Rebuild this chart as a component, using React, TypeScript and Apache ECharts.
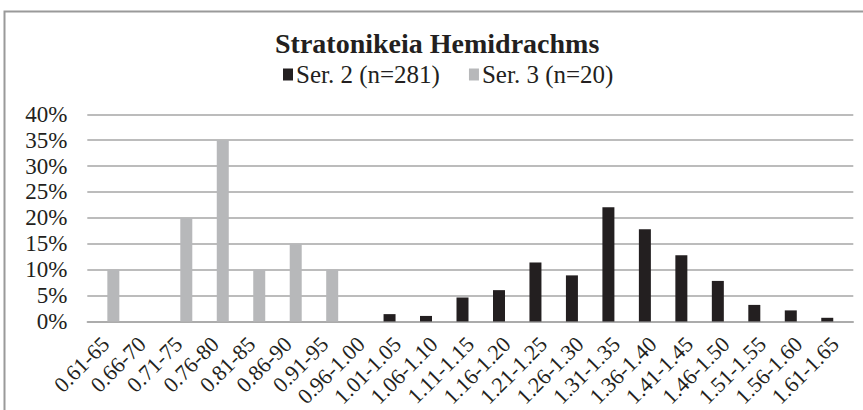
import React, { useEffect, useRef } from "react";
import * as echarts from "echarts";

const categories = [
  "0.61-65", "0.66-70", "0.71-75", "0.76-80", "0.81-85", "0.86-90", "0.91-95",
  "0.96-1.00", "1.01-1.05", "1.06-1.10", "1.11-1.15", "1.16-1.20", "1.21-1.25",
  "1.26-1.30", "1.31-1.35", "1.36-1.40", "1.41-1.45", "1.46-1.50", "1.51-1.55",
  "1.56-1.60", "1.61-1.65",
];

// percentages
const ser2Values = [
  0, 0, 0, 0, 0, 0, 0, 0, 1.42, 1.07, 4.63, 6.05, 11.39, 8.9, 22.06, 17.79,
  12.81, 7.83, 3.2, 2.14, 0.71,
];
const ser3Values = [10, 0, 20, 35, 10, 15, 10, 0, 0, 0, 0, 0, 0, 0, 0, 0, 0, 0, 0, 0, 0];

const seriesNames = ["Ser. 2 (n=281)", "Ser. 3 (n=20)"];
const yTicks = { min: 0, max: 40, interval: 5 };

const FONT = "'Liberation Serif', 'Times New Roman', serif";
const TEXT = "#231f20";
const GRID = "#a6a6a6";

export default function App() {
  const ref = useRef<HTMLDivElement>(null);
  useEffect(() => {
    if (!ref.current) return;
    const chart = echarts.init(ref.current, null, { renderer: "svg" });
    chart.setOption({
      animation: false,
      backgroundColor: "#ffffff",
      textStyle: { fontFamily: FONT, color: TEXT },
      title: {
        text: "Stratonikeia Hemidrachms",
        left: 275,
        top: 29,
        padding: 0,
        textStyle: { fontFamily: FONT, fontWeight: "bold", fontSize: 28, color: TEXT },
      },
      legend: {
        top: 62,
        left: 283,
        padding: 0,
        icon: "rect",
        itemWidth: 10,
        itemHeight: 12,
        itemGap: 29,
        textStyle: { fontFamily: FONT, fontSize: 25, color: TEXT, padding: [0, 0, 0, -2] },
        data: seriesNames,
      },
      graphic: [
        {
          type: "rect",
          shape: { x: 4.5, y: 11.5, width: 900, height: 450 },
          style: { fill: "none", stroke: "#9a9a9a", lineWidth: 2 },
          silent: true,
        },
      ],
      grid: { left: 87.3, right: 9.7, top: 114.3, bottom: 87.7 },
      xAxis: {
        type: "category",
        data: categories,
        axisTick: { show: false },
        axisLine: { show: true, lineStyle: { color: GRID, width: 1.5 } },
        axisLabel: {
          interval: 0,
          rotate: 45,
          fontFamily: FONT,
          fontSize: 22,
          color: TEXT,
          margin: 19,
        },
      },
      yAxis: {
        type: "value",
        min: yTicks.min,
        max: yTicks.max,
        interval: yTicks.interval,
        axisLine: { show: false },
        axisTick: { show: false },
        splitLine: { lineStyle: { color: GRID, width: 1.5 } },
        axisLabel: {
          formatter: "{value}%",
          fontFamily: FONT,
          fontSize: 23,
          color: TEXT,
          margin: 20,
        },
      },
      series: [
        {
          name: seriesNames[0],
          type: "bar",
          data: ser2Values,
          barWidth: 12,
          barGap: "30%",
          itemStyle: { color: "#231f20" },
        },
        {
          name: seriesNames[1],
          type: "bar",
          data: ser3Values,
          barWidth: 12,
          barGap: "30%",
          itemStyle: { color: "#b7b8ba" },
        },
      ],
    });
    return () => chart.dispose();
  }, []);
  return (
    <div
      ref={ref}
      style={{ position: "fixed", left: 0, top: 0, width: 863, height: 410 }}
    />
  );
}
